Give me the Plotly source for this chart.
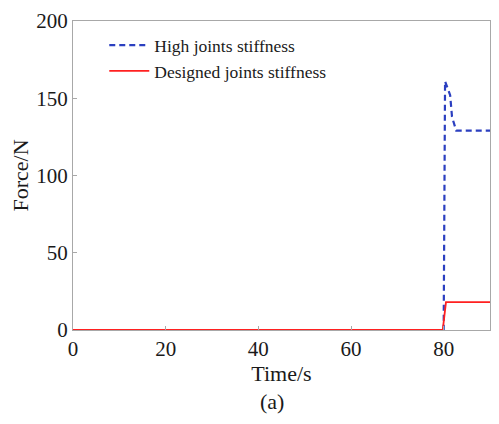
import plotly.graph_objects as go

high_t = [0, 80.0, 80.3, 81.4, 81.8, 82.7, 84.0, 90]
high_f = [0, 0, 161, 152, 138, 129, 129, 129]
design_t = [0, 79.8, 80.5, 90]
design_f = [0, 0, 18, 18]

x_ticks = [0, 20, 40, 60, 80]
y_ticks = [0, 50, 100, 150, 200]

font_family = "Liberation Serif, Times New Roman, serif"
txt = "#1a1a1a"

fig = go.Figure()
fig.add_trace(go.Scatter(x=high_t, y=high_f, mode="lines", name="High joints stiffness",
                         line=dict(color="#2b3fc0", width=2.2, dash="6px,4px")))
fig.add_trace(go.Scatter(x=design_t, y=design_f, mode="lines", name="Designed joints stiffness",
                         line=dict(color="#ff2020", width=1.8)))

axis_common = dict(showline=True, linecolor="#a8a8a8", linewidth=1.2, mirror=True,
                   ticks="inside", ticklen=4, tickcolor="#a8a8a8", showgrid=False,
                   zeroline=False, automargin=False, ticklabeloverflow="allow",
                   tickfont=dict(family=font_family, size=21, color=txt))

fig.update_xaxes(range=[0, 90], tickvals=x_ticks,
                 title=dict(text="Time/s", font=dict(family=font_family, size=22, color=txt), standoff=2),
                 **axis_common)
fig.update_yaxes(range=[0, 200], tickvals=y_ticks,
                 title=dict(text="Force/N", font=dict(family=font_family, size=22, color=txt), standoff=4),
                 **axis_common)

fig.add_annotation(text="(a)", xref="paper", yref="paper", x=0.477, y=-0.232,
                   xanchor="center", yanchor="middle", showarrow=False,
                   font=dict(family=font_family, size=22, color=txt))

fig.update_layout(
    width=499, height=424,
    margin=dict(l=65, r=17, t=13, b=102),
    paper_bgcolor="white", plot_bgcolor="white",
    showlegend=True,
    legend=dict(x=0.075, y=0.98, xanchor="left", yanchor="top",
                bgcolor="rgba(0,0,0,0)", font=dict(family=font_family, size=17.5, color=txt),
                tracegroupgap=0, itemwidth=40),
)

fig.write_html("out.html")
